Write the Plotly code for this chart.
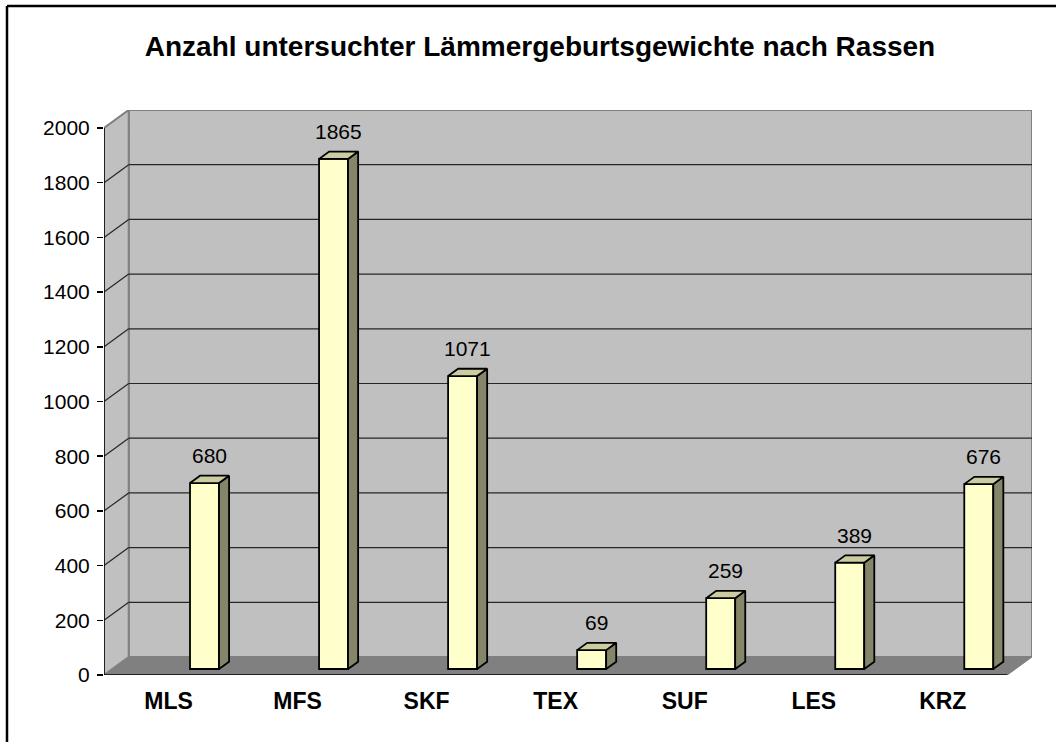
import plotly.graph_objects as go

# ---------------- data ----------------
categories = ["MLS", "MFS", "SKF", "TEX", "SUF", "LES", "KRZ"]
counts = [680, 1865, 1071, 69, 259, 389, 676]
y_ticks = [0, 200, 400, 600, 800, 1000, 1200, 1400, 1600, 1800, 2000]
title_text = "Anzahl untersuchter Lämmergeburtsgewichte nach Rassen"

# ---------------- layout geometry ----------------
W, H = 1056, 742
ML, MR, MT, MB = 104, 24, 110, 67
PW, PH = W - ML - MR, H - MT - MB
DXP, DYP = 24.7, 18.0                    # depth offset of back wall in px
YMAX = 2000
n = len(categories)
px_cat = (PW - DXP) / n
px_val = (PH - DYP) / YMAX
DX = DXP / px_cat
DY = DYP / px_val

# bar geometry (in category / value units)
t1, t2 = 0.333, 0.74                     # depth fractions of bar front / back
bw = 29 / px_cat
boff = 21.5 / px_cat
ddx = (t2 - t1) * DX
ddy = (t2 - t1) * DY
label_dx = 4.5 / px_cat


def px_to_paper_x(x):
    return (x - ML) / PW


def px_to_paper_y(y):
    return (H - MB - y) / PH


FRONT = "#FFFFCC"
TOP = "#CCCCA3"
SIDE = "#858569"
WALL = "#C0C0C0"
FLOOR = "#808080"
EDGE = "#808080"

shapes = []
x0, x1 = -0.5, n - 0.5

# back wall
shapes.append(dict(type="path", xref="x", yref="y", layer="below",
                   path=f"M{x0+DX},{DY} L{x1+DX},{DY} L{x1+DX},{YMAX+DY} L{x0+DX},{YMAX+DY} Z",
                   fillcolor=WALL, line=dict(color=EDGE, width=2)))
# left side wall
shapes.append(dict(type="path", xref="x", yref="y", layer="below",
                   path=f"M{x0},0 L{x0+DX},{DY} L{x0+DX},{YMAX+DY} L{x0},{YMAX} Z",
                   fillcolor=WALL, line=dict(color=EDGE, width=2)))
# gridlines
for v in y_ticks[1:]:
    col = EDGE if v == YMAX else "#262626"
    shapes.append(dict(type="line", xref="x", yref="y", layer="below",
                       x0=x0 + DX, y0=v + DY, x1=x1 + DX, y1=v + DY,
                       line=dict(color=col, width=1.2)))
    shapes.append(dict(type="line", xref="x", yref="y", layer="below",
                       x0=x0, y0=v, x1=x0 + DX, y1=v + DY,
                       line=dict(color=col, width=1.2)))
# floor
shapes.append(dict(type="path", xref="x", yref="y", layer="below",
                   path=f"M{x0},0 L{x1},0 L{x1+DX},{DY} L{x0+DX},{DY} Z",
                   fillcolor=FLOOR, line=dict(color=FLOOR, width=1)))
# front axis lines
shapes.append(dict(type="line", xref="x", yref="y", x0=x0, y0=0, x1=x1, y1=0,
                   line=dict(color="black", width=1.5)))
shapes.append(dict(type="line", xref="x", yref="y", x0=x0, y0=0, x1=x0, y1=YMAX,
                   line=dict(color="black", width=1.5)))
# x boundary ticks
for k in range(n + 1):
    shapes.append(dict(type="line", xref="x", yref="y", ysizemode="pixel", yanchor=0,
                       x0=x0 + k, x1=x0 + k, y0=0, y1=-8,
                       line=dict(color="black", width=1.2)))
# outer border (top & left visible)
shapes.append(dict(type="line", xref="paper", yref="paper",
                   x0=px_to_paper_x(7), x1=px_to_paper_x(W + 5),
                   y0=px_to_paper_y(6), y1=px_to_paper_y(6),
                   line=dict(color="black", width=2.5)))
shapes.append(dict(type="line", xref="paper", yref="paper",
                   x0=px_to_paper_x(7), x1=px_to_paper_x(7),
                   y0=px_to_paper_y(6), y1=px_to_paper_y(H + 5),
                   line=dict(color="black", width=2.5)))

fig = go.Figure()

# front faces
fig.add_trace(go.Bar(
    x=list(range(n)), y=counts, base=[t1 * DY] * n,
    width=bw, offset=boff,
    marker=dict(color=FRONT, line=dict(color="black", width=1.8)),
    hoverinfo="skip", showlegend=False,
))

# side and top faces
for i, v in enumerate(counts):
    xl = i + boff
    xr = xl + bw
    yb = t1 * DY
    yt = v + t1 * DY
    fig.add_trace(go.Scatter(
        x=[xr, xr + ddx, xr + ddx, xr, xr],
        y=[yb, yb + ddy, yt + ddy, yt, yb],
        fill="toself", fillcolor=SIDE, mode="lines",
        line=dict(color="black", width=1.8), hoverinfo="skip", showlegend=False))
    fig.add_trace(go.Scatter(
        x=[xl, xr, xr + ddx, xl + ddx, xl],
        y=[yt, yt, yt + ddy, yt + ddy, yt],
        fill="toself", fillcolor=TOP, mode="lines",
        line=dict(color="black", width=1.8), hoverinfo="skip", showlegend=False))

# data labels
annotations = []
for i, v in enumerate(counts):
    annotations.append(dict(
        x=i + boff + bw / 2 + label_dx, y=v + t2 * DY,
        xref="x", yref="y", text=str(v), showarrow=False,
        yanchor="middle", xanchor="center", yshift=20,
        font=dict(family="Arial, Liberation Sans", size=21, color="black")))

fig.update_layout(
    width=W, height=H,
    margin=dict(l=ML, r=MR, t=MT, b=MB, pad=0),
    paper_bgcolor="white", plot_bgcolor="rgba(0,0,0,0)",
    font=dict(family="Arial, Liberation Sans", color="black"),
    title=dict(text=f"<b>{title_text}</b>", xref="container", yref="container",
               x=540 / W, y=1 - 46 / H, xanchor="center", yanchor="middle",
               font=dict(family="Arial, Liberation Sans", size=28, color="black")),
    shapes=shapes, annotations=annotations,
    showlegend=False, bargap=0, hovermode=False,
)
fig.update_xaxes(range=[x0, x1 + DX], tickmode="array", tickvals=list(range(n)),
                 ticktext=[f"<b>{c}</b>" for c in categories], ticks="",
                 tickfont=dict(size=23, family="Arial, Liberation Sans", color="black"),
                 ticklabelstandoff=10, showgrid=False, zeroline=False, showline=False)
fig.update_yaxes(range=[0, YMAX + DY], tickmode="array", tickvals=y_ticks,
                 ticks="outside", ticklen=6, tickwidth=1.5, tickcolor="black",
                 tickfont=dict(size=21, family="Arial, Liberation Sans", color="black"),
                 ticklabelstandoff=3, showgrid=False, zeroline=False, showline=False)

fig.write_html("out.html", config={"displayModeBar": False, "staticPlot": True},
               post_script="document.body.style.margin='0';document.body.style.padding='0';")
